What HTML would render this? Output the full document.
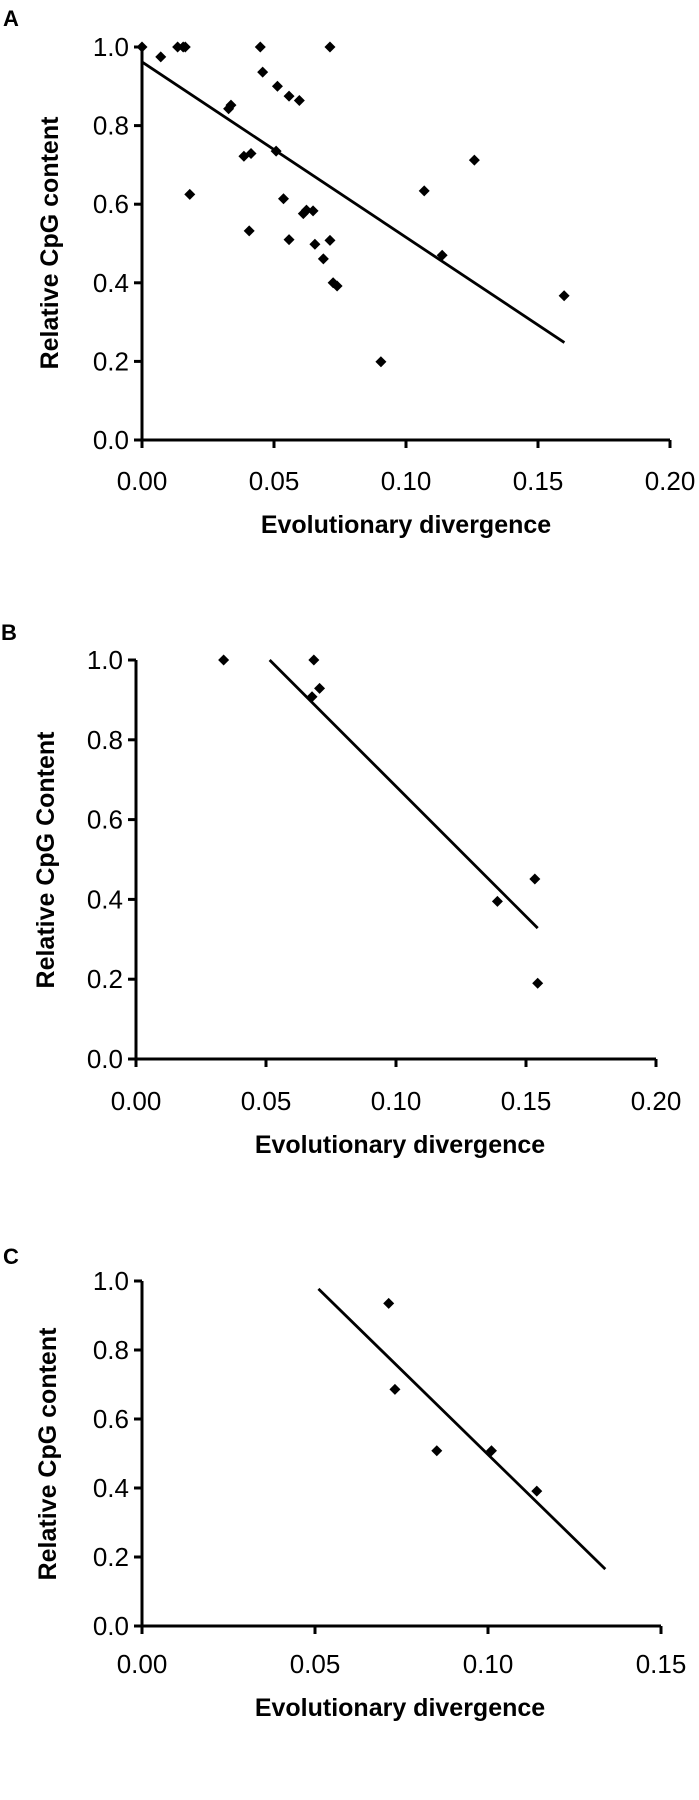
<!DOCTYPE html>
<html><head><meta charset="utf-8">
<style>
html,body{margin:0;padding:0;background:#fff;}
svg{display:block;}
text{font-family:"Liberation Sans",Arial,sans-serif;fill:#000;}
.tick{font-size:26px;}
.title{font-size:25px;font-weight:bold;}
.panel{font-size:22px;font-weight:bold;}
</style></head>
<body>
<svg id="fig" width="699" height="1800" viewBox="0 0 699 1800" xmlns="http://www.w3.org/2000/svg"></svg>
<script>
// Panel A data
const aX = [0.000,0.0071,0.0135,0.0156,0.0164,0.0181,0.0328,0.0337,0.0448,0.0457,0.0513,0.0557,0.0596,0.0712,0.0386,0.0413,0.0508,0.0406,0.0536,0.0611,0.0623,0.0648,0.0557,0.0655,0.0687,0.0712,0.0724,0.0739,0.0905,0.1069,0.1137,0.1259,0.1599];
const aY = [1.0,0.975,1.0,1.0,1.0,0.625,0.843,0.852,1.0,0.936,0.9,0.875,0.864,1.0,0.722,0.729,0.735,0.532,0.614,0.576,0.585,0.583,0.51,0.498,0.461,0.508,0.40,0.392,0.199,0.634,0.47,0.712,0.367];
const aFitX = [0.0, 0.16];
const aFitY = [0.962, 0.248];
const aXTicks = ["0.00","0.05","0.10","0.15","0.20"];
const aYTicks = ["0.0","0.2","0.4","0.6","0.8","1.0"];
// Panel B data
const bX = [0.0337,0.0684,0.0706,0.0677,0.139,0.1534,0.1545];
const bY = [1.0,1.0,0.929,0.908,0.395,0.451,0.19];
const bFitX = [0.0514, 0.1545];
const bFitY = [1.0, 0.328];
const bXTicks = ["0.00","0.05","0.10","0.15","0.20"];
const bYTicks = ["0.0","0.2","0.4","0.6","0.8","1.0"];
// Panel C data
const cX = [0.0713,0.0731,0.0852,0.101,0.1141];
const cY = [0.935,0.686,0.508,0.508,0.391];
const cFitX = [0.051, 0.1339];
const cFitY = [0.977, 0.165];
const cXTicks = ["0.00","0.05","0.10","0.15"];
const cYTicks = ["0.0","0.2","0.4","0.6","0.8","1.0"];

const NS = "http://www.w3.org/2000/svg";
const svg = document.getElementById('fig');
function mk(tag, attrs, parent){const e=document.createElementNS(NS,tag);for(const k in attrs)e.setAttribute(k,attrs[k]);(parent||svg).appendChild(e);return e;}

function panel(cfg){
  const g = mk('g',{});
  
  
  const xs = v => cfg.x0 + (v - cfg.xmin)/(cfg.xmax - cfg.xmin)*(cfg.x1 - cfg.x0);
  const ys = v => cfg.y0 - (v - 0)/(1 - 0)*(cfg.y0 - cfg.y1);
  const lab = mk('text',{x:cfg.labX,y:cfg.labY,class:'panel'},g); lab.textContent=cfg.id.toUpperCase();
  
  
  const ax = mk('g',{stroke:'#000','stroke-width':3,fill:'none'},g);
  
  
  mk('line',{x1:cfg.x0,y1:cfg.y0,x2:cfg.x0,y2:cfg.y1},ax);
  mk('line',{x1:cfg.x0-8,y1:cfg.y0,x2:cfg.x1,y2:cfg.y0},ax);
  const n = cfg.xticks.length;
  cfg.xticks.forEach((t,i)=>{
    const v = cfg.xmin + i*(cfg.xmax-cfg.xmin)/(n-1);
    const px = xs(v);
    mk('line',{x1:px,y1:cfg.y0,x2:px,y2:cfg.y0+8},ax);
    const tx = mk('text',{x:px,y:cfg.xtickY,class:'tick','text-anchor':'middle'},g); tx.textContent=t;
    
    
  });
  cfg.yticks.forEach((t,i)=>{
    const v = i*0.2;
    const py = ys(v);
    mk('line',{x1:cfg.x0-8,y1:py,x2:cfg.x0,y2:py},ax);
    const ty = mk('text',{x:cfg.x0-13,y:py+9,class:'tick','text-anchor':'end'},g); ty.textContent=t;
    
    
  });
  const fit = mk('line',{x1:xs(cfg.fx[0]),y1:ys(cfg.fy[0]),x2:xs(cfg.fx[1]),y2:ys(cfg.fy[1]),stroke:'#000','stroke-width':2.8},g);
  
  
  cfg.px.forEach((xv,i)=>{
    const cx = xs(xv), cy = ys(cfg.py[i]);
    const d = mk('polygon',{points:`${cx},${cy-5.5} ${cx+5.5},${cy} ${cx},${cy+5.5} ${cx-5.5},${cy}`,fill:'#000'},g);
    
    
  });
  const yt = mk('text',{x:0,y:0,class:'title','text-anchor':'middle',transform:`translate(${cfg.ytX},${cfg.ytY}) rotate(-90)`},g);
  yt.textContent = cfg.ytitle;
  
  
  const xt = mk('text',{x:cfg.xtX,y:cfg.xtY,class:'title','text-anchor':'middle'},g);
  xt.textContent = 'Evolutionary divergence';
  
  
}

panel({id:'a',x0:142,x1:670,y0:440,y1:47,xmin:0,xmax:0.20,xticks:aXTicks,yticks:aYTicks,px:aX,py:aY,fx:aFitX,fy:aFitY,
  labX:3,labY:26,xtickY:490,ytX:58,ytY:243,ytitle:'Relative CpG content',xtX:406,xtY:533});
panel({id:'b',x0:136,x1:656,y0:1059,y1:660,xmin:0,xmax:0.20,xticks:bXTicks,yticks:bYTicks,px:bX,py:bY,fx:bFitX,fy:bFitY,
  labX:1,labY:640,xtickY:1110,ytX:54,ytY:860,ytitle:'Relative CpG Content',xtX:400,xtY:1153});
panel({id:'c',x0:142,x1:661,y0:1626,y1:1281,xmin:0,xmax:0.15,xticks:cXTicks,yticks:cYTicks,px:cX,py:cY,fx:cFitX,fy:cFitY,
  labX:3,labY:1264,xtickY:1673,ytX:56,ytY:1454,ytitle:'Relative CpG content',xtX:400,xtY:1716});
</script>
</body></html>
